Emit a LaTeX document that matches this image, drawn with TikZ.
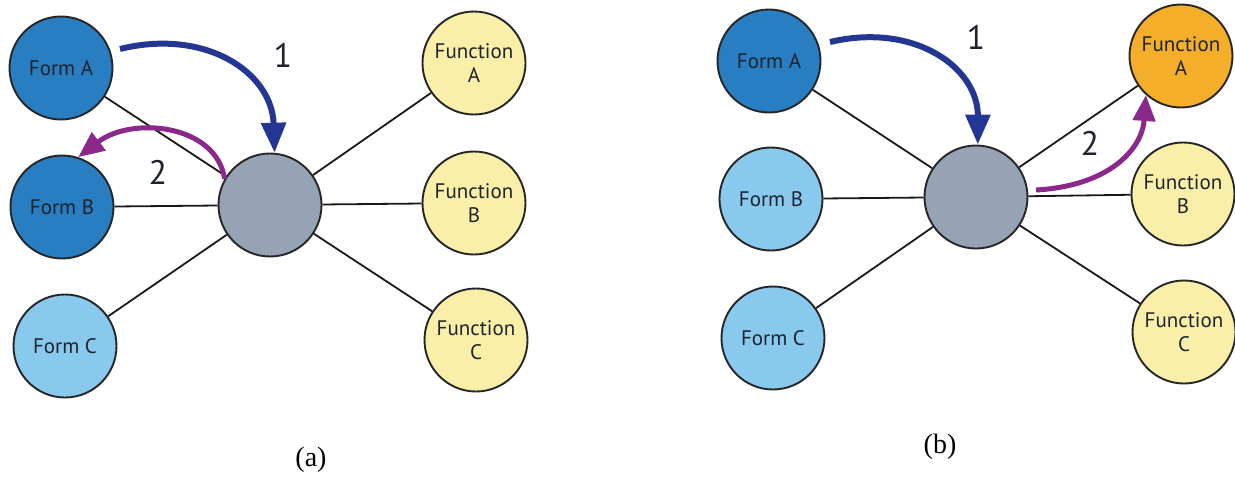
\documentclass[tikz,border=0pt]{standalone}
\usepackage{fontspec}
\setmainfont{Liberation Serif}
\newfontfamily\lblfont{PT Sans}
\usetikzlibrary{arrows.meta}
\definecolor{formdark}{RGB}{40,126,192}
\definecolor{formlight}{RGB}{138,201,238}
\definecolor{funcyel}{RGB}{250,239,168}
\definecolor{funcorg}{RGB}{244,174,42}
\definecolor{hubgray}{RGB}{150,163,180}
\definecolor{navyarr}{RGB}{36,54,148}
\definecolor{purparr}{RGB}{138,40,140}
\definecolor{txtcol}{RGB}{30,35,45}
\begin{document}
\begin{tikzpicture}[x=1pt,y=-1pt,
  circ/.style={circle, draw=black!85, line width=1.9pt, minimum size=103pt, inner sep=0pt,
    font=\lblfont\fontsize{21}{24}\selectfont, text=txtcol, align=center},
  fdark/.style={circ, fill=formdark},
  flight/.style={circ, fill=formlight},
  fyel/.style={circ, fill=funcyel},
  forg/.style={circ, fill=funcorg},
  hub/.style={circ, fill=hubgray},
  link/.style={draw=black!90, line width=1.8pt},
  bluearr/.style={draw=navyarr, line width=6pt, -{Triangle[length=30pt,width=24pt]}},
  purarr/.style={draw=purparr, line width=5pt, -{Triangle[length=26pt,width=22pt]}},
  num/.style={font=\lblfont\fontsize{34}{36}\selectfont, text=txtcol},
  captxt/.style={font=\fontsize{28}{30}\selectfont}]
\useasboundingbox (0,0) rectangle (1235,477);
% ---------- panel (a)
\node[fdark] (fa) at (61,68) {Form A};
\node[fdark] (fb) at (62,207) {Form B};
\node[flight] (fc) at (65,346) {Form C};
\node[hub] (c) at (270,205) {};
\node[fyel] (ua) at (474,63) {Function\\A};
\node[fyel] (ub) at (474,203) {Function\\B};
\node[fyel] (uc) at (476,340) {Function\\C};
\foreach \n in {fa,fb,fc,ua,ub,uc} \draw[link] (c) -- (\n);
\coordinate (a1s) at (120,49);
\draw[bluearr] (a1s) .. controls (205,28) and (272,72) .. (c.85);
\draw[purarr] (c.150) .. controls (216,124) and (132,116) .. (fb.72);
\node[num] (n1a) at (283,55) {1};
\node[num] (n2a) at (158,172) {2};
\node[captxt] (capa) at (311,460) {(a)};
% ---------- panel (b)
\node[fdark] (gfa) at (769,61) {Form A};
\node[flight] (gfb) at (771,199) {Form B};
\node[flight] (gfc) at (773,338) {Form C};
\node[hub] (d) at (976,197) {};
\node[forg] (va) at (1181,56) {Function\\A};
\node[fyel] (vb) at (1183,194) {Function\\B};
\node[fyel] (vc) at (1184,332) {Function\\C};
\foreach \n in {gfa,gfb,gfc,va,vb,vc} \draw[link] (d) -- (\n);
\coordinate (b1s) at (830,42);
\draw[bluearr] (b1s) .. controls (915,22) and (978,68) .. (d.88);
\coordinate (b2s) at (1036,190);
\draw[purarr] (b2s) .. controls (1108,186) and (1142,150) .. (va.228);
\node[num] (n1b) at (976,37) {1};
\node[num] (n2b) at (1090,143) {2};
\node[captxt] (capb) at (940,447) {(b)};
\end{tikzpicture}
\end{document}
